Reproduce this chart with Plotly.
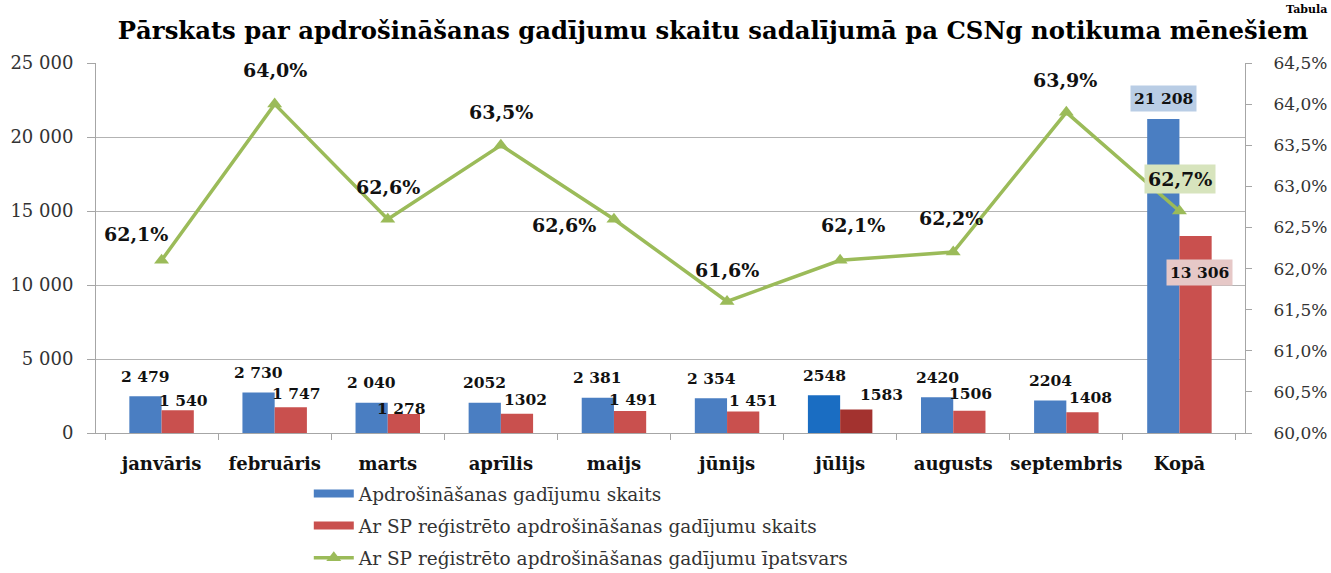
import plotly.graph_objects as go

# ---------------- data ----------------
months = ["janvāris", "februāris", "marts", "aprīlis", "maijs", "jūnijs",
          "jūlijs", "augusts", "septembris", "Kopā"]
total_cases = [2479, 2730, 2040, 2052, 2381, 2354, 2548, 2420, 2204, 21208]
sp_cases = [1540, 1747, 1278, 1302, 1491, 1451, 1583, 1506, 1408, 13306]
sp_share = [62.1, 64.0, 62.6, 63.5, 62.6, 61.6, 62.1, 62.2, 63.9, 62.7]
total_labels = ["2 479", "2 730", "2 040", "2052", "2 381", "2 354", "2548", "2420", "2204", "21 208"]
sp_labels = ["1 540", "1 747", "1 278", "1302", "1 491", "1 451", "1583", "1506", "1408", "13 306"]
share_labels = ["62,1%", "64,0%", "62,6%", "63,5%", "62,6%", "61,6%", "62,1%", "62,2%", "63,9%", "62,7%"]
series_names = ["Apdrošināšanas gadījumu skaits",
                "Ar SP reģistrēto apdrošināšanas gadījumu skaits",
                "Ar SP reģistrēto apdrošināšanas gadījumu īpatsvars"]
title_text = "Pārskats par apdrošināšanas gadījumu skaitu sadalījumā pa CSNg notikuma mēnešiem"
corner_text = "Tabula"

# ---------------- styles ----------------
FONT = "DejaVu Serif"
BLUE, RED, GREEN = "#4A7EC2", "#C9504E", "#9BBB59"
blue_colors = [BLUE] * len(months)
red_colors = [RED] * len(months)
blue_colors[6] = "#1A6DC2"
red_colors[6] = "#A3322F"

# label offsets in pixels (dx, dy), dy positive = up
blue_off = [(-16, 20)] * 9 + [(-16, 21)]
red_off = [(22, 10), (22, 14), (14, 6), (25, 14), (20, 11), (26, 11), (41, 15), (17, 17), (24, 15), (20, -36)]
share_off = [(-26, 26), (0, 34), (0, 32), (0, 33), (-50, -6), (0, 31), (13, 35), (-2, 34), (-1, 32), (1, 32)]

fig = go.Figure()
fig.add_trace(go.Bar(x=months, y=total_cases, name=series_names[0],
                     marker=dict(color=blue_colors, line=dict(width=0)),
                     showlegend=False))
fig.add_trace(go.Bar(x=months, y=sp_cases, name=series_names[1],
                     marker=dict(color=red_colors, line=dict(width=0)),
                     showlegend=False))
fig.add_trace(go.Scatter(x=months, y=sp_share, name=series_names[2], yaxis="y2",
                         mode="lines+markers",
                         line=dict(color=GREEN, width=3.5),
                         marker=dict(symbol="triangle-up", size=13, color=GREEN),
                         legendgroup="c", legendrank=3))
# legend keys for the bar series (wide rectangular swatches, as in the reference)
fig.add_trace(go.Scatter(x=[None], y=[None], mode="lines", name=series_names[0],
                         line=dict(color=BLUE, width=8), legendgroup="a", legendrank=1,
                         hoverinfo="skip"))
fig.add_trace(go.Scatter(x=[None], y=[None], mode="lines", name=series_names[1],
                         line=dict(color=RED, width=8), legendgroup="b", legendrank=2,
                         hoverinfo="skip"))

annotations = []
lab_font = dict(family=FONT, size=15.5, color="#111111")
for i, m in enumerate(months):
    last = i == len(months) - 1
    dx, dy = blue_off[i]
    annotations.append(dict(x=m, y=total_cases[i], xref="x", yref="y", text="<b>%s</b>" % total_labels[i],
                            showarrow=False, xshift=dx, yshift=dy, xanchor="center", yanchor="middle",
                            font=lab_font, bgcolor="#B9CDE5" if last else None, borderpad=3))
    dx, dy = red_off[i]
    annotations.append(dict(x=m, y=sp_cases[i], xref="x", yref="y", text="<b>%s</b>" % sp_labels[i],
                            showarrow=False, xshift=dx, yshift=dy, xanchor="center", yanchor="middle",
                            font=lab_font, bgcolor="#E6C8C7" if last else None, borderpad=3))
    dx, dy = share_off[i]
    annotations.append(dict(x=m, y=sp_share[i], xref="x", yref="y2", text="<b>%s</b>" % share_labels[i],
                            showarrow=False, xshift=dx, yshift=dy, xanchor="center", yanchor="middle",
                            font=dict(family=FONT, size=19, color="#111111"),
                            bgcolor="#D7E4BD" if last else None, borderpad=3))

annotations.append(dict(x=(1329 - 96) / 1149, y=(433 - 1) / 370, xref="paper", yref="paper",
                        text="<b>%s</b>" % corner_text, showarrow=False,
                        xanchor="right", yanchor="top",
                        font=dict(family=FONT, size=11, color="#000000")))

fig.update_layout(
    width=1331, height=573,
    margin=dict(l=96, r=86, t=63, b=140, autoexpand=False),
    paper_bgcolor="white", plot_bgcolor="white",
    font=dict(family=FONT, color="#333333"),
    separators=", ",
    title=dict(text="<b>%s</b>" % title_text, xref="container", yref="container",
               x=713 / 1331, y=1 - 30 / 573, xanchor="center", yanchor="middle",
               font=dict(family=FONT, size=24.3, color="#000000")),
    barmode="group", bargap=0.43, bargroupgap=0.0,
    showlegend=True,
    legend=dict(xref="container", yref="container", x=0.232, y=1 - 475 / 573,
                xanchor="left", yanchor="top", orientation="v",
                traceorder="grouped",
                font=dict(family=FONT, size=18.5, color="#333333"),
                tracegroupgap=5, itemwidth=40, bgcolor="rgba(0,0,0,0)"),
    xaxis=dict(type="category", tickfont=dict(family=FONT, size=18, color="#111111"),
               tickprefix="<b>", ticksuffix="</b>", tickangle=0, automargin=False,
               showline=True, linecolor="#A6A6A6", linewidth=1,
               ticks="outside", tickson="boundaries", ticklen=6, tickcolor="#A6A6A6",
               ticklabelstandoff=14, showgrid=False),
    yaxis=dict(range=[0, 25000], dtick=5000, tickformat=",d",
               tickfont=dict(family=FONT, size=18, color="#333333"),
               automargin=False,
               showline=True, linecolor="#A6A6A6", linewidth=1,
               ticks="outside", ticklen=8, tickcolor="#A6A6A6", ticklabelstandoff=10,
               showgrid=True, gridcolor="#B3B3B3", gridwidth=1, zeroline=False),
    yaxis2=dict(range=[60, 64.5], dtick=0.5, tickformat=".1f", ticksuffix="%",
                tickfont=dict(family=FONT, size=17, color="#333333"),
                overlaying="y", side="right", automargin=False,
                showline=True, linecolor="#A6A6A6", linewidth=1,
                ticks="outside", ticklen=6, tickcolor="#A6A6A6", ticklabelstandoff=18,
                showgrid=False, zeroline=False),
    annotations=annotations,
)

fig.write_html("out.html", config={"displayModeBar": False},
               post_script="document.body.style.margin='0';document.body.style.overflow='hidden';")
